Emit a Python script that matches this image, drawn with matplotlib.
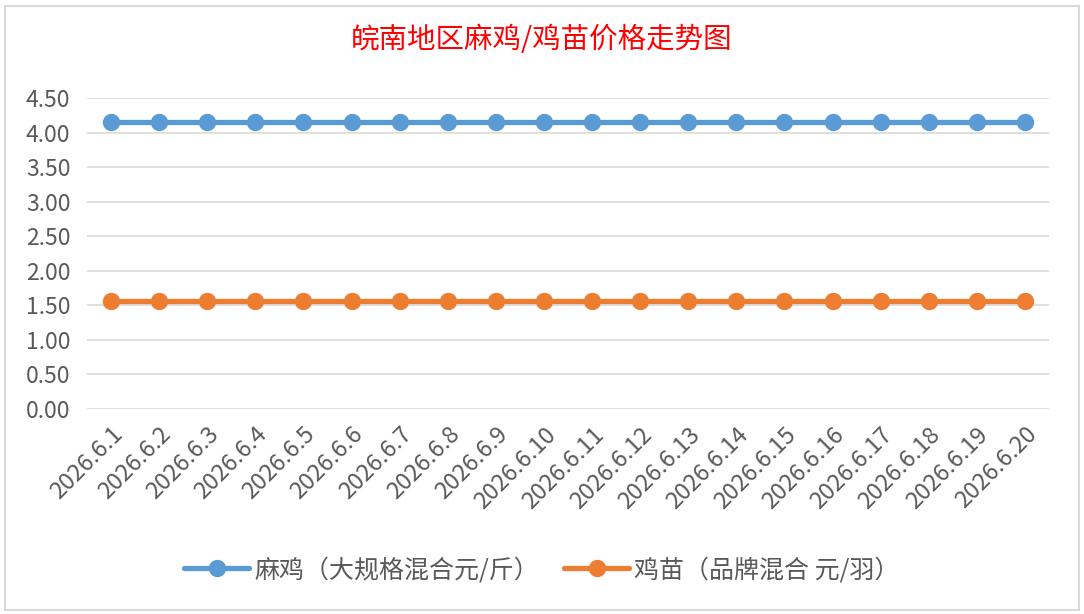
import matplotlib.pyplot as plt
from matplotlib.patches import Rectangle

plt.rcParams['font.family'] = ['Noto Sans CJK SC', 'DejaVu Sans']

dates = ['2026.6.%d' % d for d in range(1, 21)]
mj_price = [4.15] * 20   # 麻鸡 元/斤
jm_price = [1.56] * 20   # 鸡苗 元/羽
yticks = [0.0, 0.5, 1.0, 1.5, 2.0, 2.5, 3.0, 3.5, 4.0, 4.5]

fig = plt.figure(figsize=(10.84, 6.14), dpi=100)
ax = fig.add_axes([0.0803, 0.3339, 0.8874, 0.5065])

x = list(range(len(dates)))
ax.plot(x, mj_price, color='#5b9bd5', lw=3.8, marker='o', ms=11.5,
        label='麻鸡（大规格混合元/斤）', solid_capstyle='round')
ax.plot(x, jm_price, color='#ed7d31', lw=3.8, marker='o', ms=11.5,
        label='鸡苗（品牌混合 元/羽）', solid_capstyle='round')

ax.set_xlim(-0.5, len(dates) - 0.5)
ax.set_ylim(0, 4.5)
ax.set_yticks(yticks)
ax.set_yticklabels(['%.2f' % v for v in yticks])
ax.set_xticks(x)
ax.set_xticklabels(dates, rotation=45, ha='right', va='top', rotation_mode='anchor')
ax.tick_params(axis='y', length=0, labelsize=16.5, colors='#595959', pad=12)
ax.tick_params(axis='x', length=0, labelsize=17, colors='#595959', pad=10)
ax.grid(axis='y', color='#d9d9d9', lw=1.2)
ax.set_axisbelow(True)
for s in ax.spines.values():
    s.set_visible(False)

fig.text(0.5, 1 - 40 / 614, '皖南地区麻鸡/鸡苗价格走势图', color='red',
         fontsize=20.5, ha='center', va='center')

fig.legend(loc='center', bbox_to_anchor=(0.5, 1 - 570 / 614), ncol=2,
           frameon=False, fontsize=18, labelcolor='#595959',
           handlelength=2.6, handletextpad=0.2, columnspacing=1.0)

# chart border
fig.patches.append(Rectangle((5 / 1084, 4 / 614), 1074 / 1084, 604 / 614,
                             transform=fig.transFigure, fill=False,
                             edgecolor='#d9d9d9', lw=1.5))

fig.savefig('out.png', dpi=100)
